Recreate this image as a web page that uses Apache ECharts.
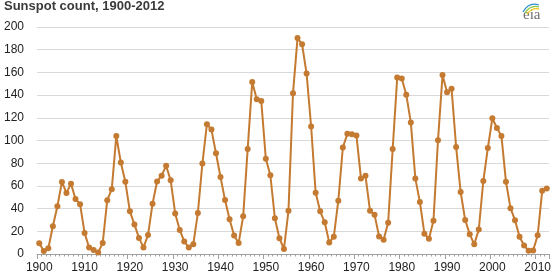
<!DOCTYPE html>
<html>
<head>
<meta charset="utf-8">
<script src="https://cdn.jsdelivr.net/npm/echarts@6/dist/echarts.min.js"></script>
<style>
html,body{margin:0;padding:0;background:#fff;}
#chart{width:557px;height:279px;}
</style>
</head>
<body>
<div id="chart"></div>
<script>
const titleText = 'Sunspot count, 1900-2012';
const startYear = 1900;
const years = [];
for (let y = 1900; y <= 2012; y++) years.push(String(y));
const sunspots = [
  9.5, 2.7, 5.0, 24.4, 42.0, 63.5, 53.8, 62.0, 48.5, 43.9,
  18.6, 5.7, 3.6, 1.4, 9.6, 47.4, 57.1, 103.9, 80.6, 63.6,
  37.6, 26.1, 14.2, 5.8, 16.7, 44.3, 63.9, 69.0, 77.8, 64.9,
  35.7, 21.2, 11.1, 5.7, 8.7, 36.1, 79.7, 114.4, 109.6, 88.8,
  67.8, 47.5, 30.6, 16.3, 9.6, 33.2, 92.6, 151.6, 136.3, 134.7,
  83.9, 69.4, 31.5, 13.9, 4.4, 38.0, 141.7, 190.2, 184.8, 159.0,
  112.3, 53.9, 37.6, 27.9, 10.2, 15.1, 47.0, 93.8, 105.9, 105.5,
  104.5, 66.6, 68.9, 38.0, 34.5, 15.5, 12.6, 27.5, 92.5, 155.4,
  154.6, 140.4, 115.9, 66.6, 45.9, 17.9, 13.4, 29.4, 100.2, 157.6,
  142.6, 145.7, 94.3, 54.6, 29.9, 17.5, 8.6, 21.5, 64.3, 93.3,
  119.6, 111.0, 104.0, 63.7, 40.4, 29.8, 15.2, 7.5, 2.9, 3.1,
  16.5, 55.7, 57.7
];
const yMin = 0, yMax = 200, yStep = 20;

const chart = echarts.init(document.getElementById('chart'), null, {renderer: 'canvas'});
const lineColor = '#C47A30';
const font = 'Arial, "Liberation Sans", sans-serif';

chart.setOption({
  animation: false,
  backgroundColor: '#ffffff',
  title: {
    text: titleText,
    left: 4, top: 0, padding: 0,
    textStyle: {fontFamily: font, fontSize: 13, fontWeight: 'bold', color: '#3a3a3a', lineHeight: 13}
  },
  graphic: [
    {type: 'text', left: 523, top: 8, style: {text: 'eia', fontFamily: '"Liberation Serif", "DejaVu Serif", serif', fontSize: 15, fill: '#707070'}},
    {type: 'bezierCurve', shape: {x1: 523, y1: 12, cpx1: 527, cpy1: 5, x2: 539, y2: 5, cpx2: 533, cpy2: 3}, style: {stroke: '#2f8fd0', lineWidth: 1.3, fill: null}},
    {type: 'bezierCurve', shape: {x1: 525, y1: 13, cpx1: 529, cpy1: 7, x2: 539, y2: 7, cpx2: 534, cpy2: 5.5}, style: {stroke: '#8cc63f', lineWidth: 1.3, fill: null}},
    {type: 'bezierCurve', shape: {x1: 527, y1: 14, cpx1: 531, cpy1: 9, x2: 539, y2: 9, cpx2: 535, cpy2: 8}, style: {stroke: '#f2c618', lineWidth: 1.3, fill: null}}
  ],
  grid: {left: 37, right: 8, top: 27, bottom: 25, containLabel: false},
  xAxis: [
    {
      type: 'category', data: years, boundaryGap: true, position: 'bottom',
      axisLine: {show: true, lineStyle: {color: '#a0a0a0', width: 1}},
      axisTick: {show: true, interval: 0, length: 2.5, lineStyle: {color: '#a0a0a0'}},
      axisLabel: {show: false},
      splitLine: {show: false}
    },
    {
      type: 'category', data: years, boundaryGap: true, position: 'bottom', offset: 0,
      axisLine: {show: false},
      axisTick: {show: true, length: 5, lineStyle: {color: '#a0a0a0'},
        interval: function (i) { return (Number(years[i]) - startYear) % 10 === 0; }},
      axisLabel: {show: true, margin: 8, fontFamily: font, fontSize: 12, color: '#222',
        interval: function (i) { return (Number(years[i]) - startYear) % 10 === 0; }},
      splitLine: {show: false}
    }
  ],
  yAxis: {
    type: 'value', min: yMin, max: yMax, interval: yStep,
    axisLine: {show: false}, axisTick: {show: false},
    axisLabel: {margin: 13, fontFamily: font, fontSize: 12, color: '#222'},
    splitLine: {show: true, lineStyle: {color: '#d9d9d9', width: 1}}
  },
  series: [{
    type: 'line', xAxisIndex: 0, data: sunspots,
    symbol: 'circle', symbolSize: 6, showSymbol: true, showAllSymbol: true,
    lineStyle: {color: lineColor, width: 2},
    itemStyle: {color: lineColor}
  }]
});
</script>
</body>
</html>
